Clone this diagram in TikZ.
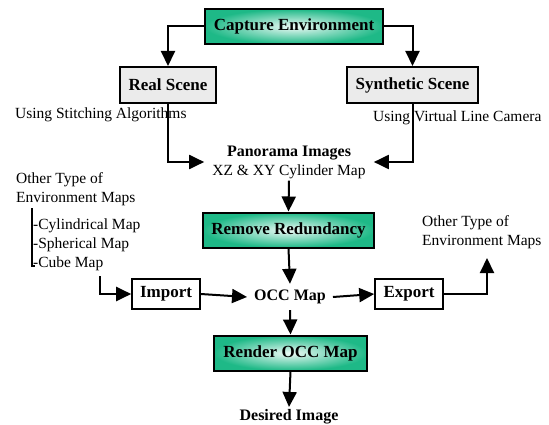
\documentclass[tikz,border=0pt]{standalone}
\usepackage{fontspec}
\setmainfont{Liberation Serif}
\usetikzlibrary{arrows.meta,shadings}
\definecolor{boxgreen}{RGB}{30,185,135}
\definecolor{boxgray}{RGB}{235,235,235}
\begin{document}
\begin{tikzpicture}[x=1pt,y=-1pt,
  every node/.style={font=\fontsize{15.5}{19}\selectfont, inner sep=0pt},
  greenbox/.style={draw=black, line width=2pt, inner color=boxgreen!8, outer color=boxgreen,
     minimum height=35pt, font=\fontsize{17}{19}\selectfont\bfseries},
  graybox/.style={draw=black, line width=2pt, fill=boxgray, minimum height=36pt,
     font=\fontsize{17}{19}\selectfont\bfseries},
  whitebox/.style={draw=black, line width=1.6pt, fill=white, minimum height=30pt,
     font=\fontsize{17}{19}\selectfont\bfseries},
  btext/.style={font=\fontsize{16}{19}\selectfont\bfseries},
  arr/.style={line width=2pt, -{Triangle[width=14pt,length=15pt]}},
  ln/.style={line width=2pt}]
\useasboundingbox (0,0) rectangle (549,425);
\node[greenbox, minimum width=178pt] (cap) at (294,26.5) {Capture Environment};
\node[graybox, minimum width=96pt] (real) at (168,85) {Real Scene};
\node[graybox, minimum width=131pt] (syn) at (412.5,85) {Synthetic Scene};
\node[anchor=west] (stitch) at (15,115) {Using Stitching Algorithms};
\node[anchor=west] (virt) at (373,118) {Using Virtual Line Camera};
\node[align=center, inner xsep=8pt, inner ysep=2pt] (pano) at (289,162)
  {\fontsize{16}{19}\selectfont\textbf{Panorama Images}\\XZ \& XY Cylinder Map};
\node[greenbox, minimum width=171pt] (rem) at (288.5,230) {Remove Redundancy};
\node[btext, inner xsep=7pt, inner ysep=6pt] (occ) at (290,297) {OCC Map};
\node[whitebox, minimum width=68pt] (imp) at (166,294) {Import};
\node[whitebox, minimum width=68pt] (exp) at (409,294) {Export};
\node[greenbox, minimum width=153pt] (rend) at (290.5,353) {Render OCC Map};
\node[btext, anchor=south, inner sep=2pt] (des) at (289,426) {Desired Image};
\node[align=left, anchor=north west] (lot) at (16,172) {Other Type of\\Environment Maps};
\node[anchor=west] (cyl) at (33,226) {-Cylindrical Map};
\node[anchor=west] (sph) at (33,245) {-Spherical Map};
\node[anchor=west] (cube) at (33,264) {-Cube Map};
\node[align=left, anchor=north west] (rot) at (422,215) {Other Type of\\Environment Maps};
\coordinate (lt) at (32,208);
\coordinate (lb) at (32,266);
\coordinate (lbr) at (35,266);
\coordinate (cm) at (100,276);
\coordinate (rt) at (487,258);
\draw[line width=1.5pt] (lt) -- (lb) -- (lbr);
\draw[arr] (cap.west) -| (real.north);
\draw[arr] (cap.east) -| (syn.north);
\draw[arr] (real.south) |- (pano.west);
\draw[arr] (syn.south) |- (pano.east);
\draw[arr] (pano.south) -- (rem.north);
\draw[arr] (rem.south) -- (occ.north);
\draw[arr] (cm) |- (imp.west);
\draw[arr] (imp.east) -- (occ.west);
\draw[arr] (occ.east) -- (exp.west);
\draw[arr] (exp.east) -| (rt);
\draw[arr] (occ.south) -- (rend.north);
\draw[arr] (rend.south) -- (des.north);
\end{tikzpicture}
\end{document}
